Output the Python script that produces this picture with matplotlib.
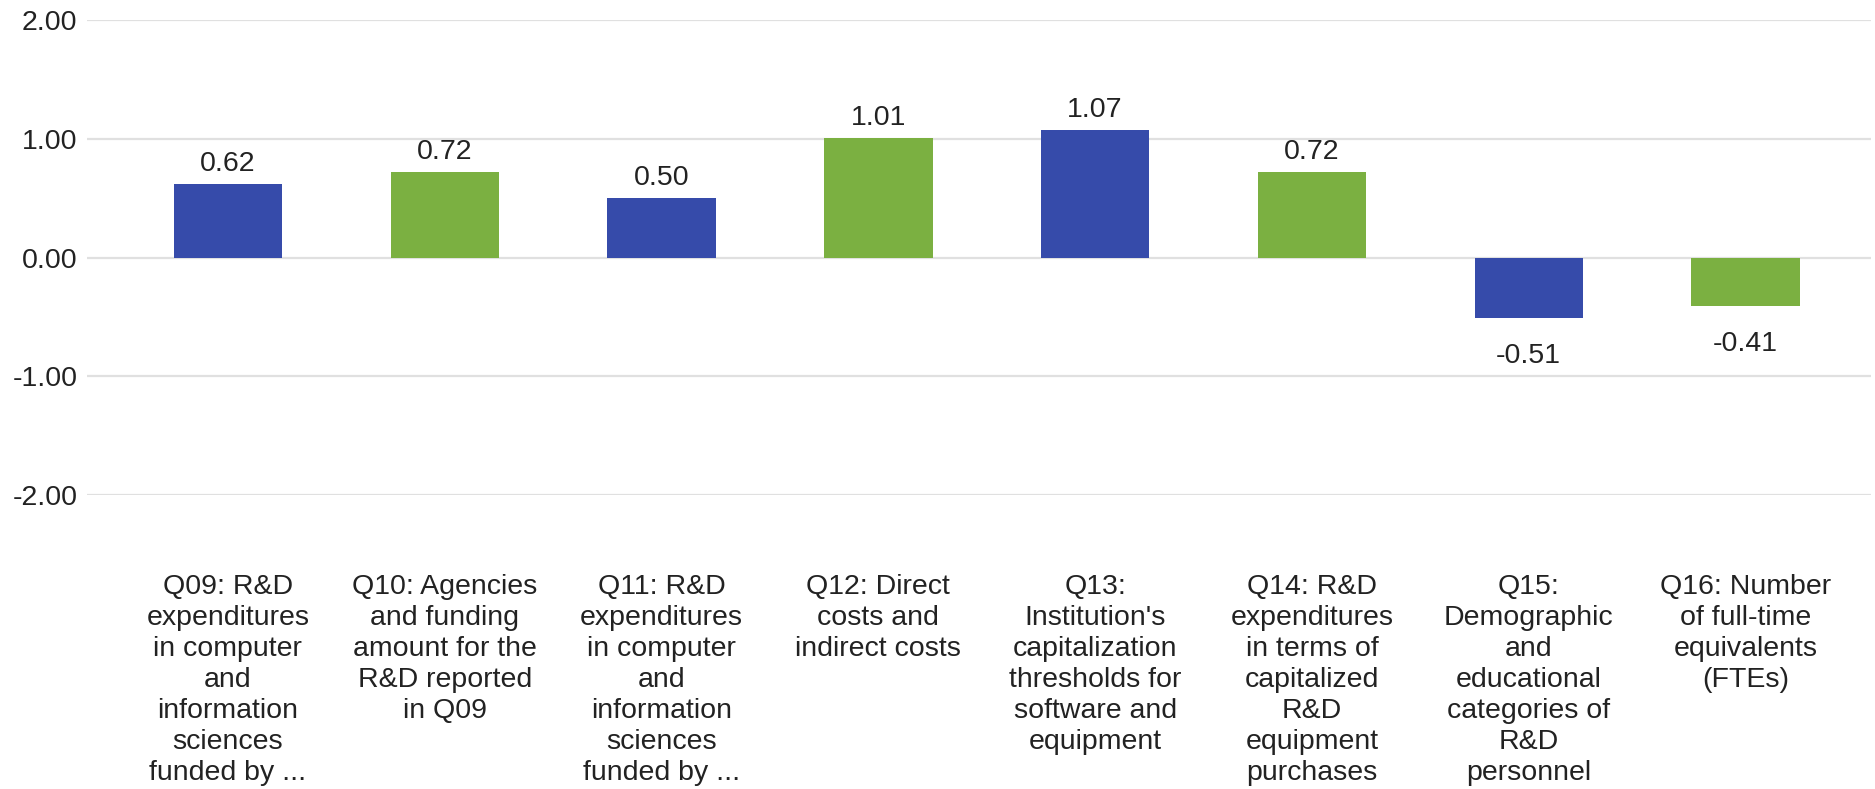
import matplotlib
matplotlib.use("Agg")
import matplotlib.pyplot as plt

# data
categories = [
    "Q09: R&D\nexpenditures\nin computer\nand\ninformation\nsciences\nfunded by ...",
    "Q10: Agencies\nand funding\namount for the\nR&D reported\nin Q09",
    "Q11: R&D\nexpenditures\nin computer\nand\ninformation\nsciences\nfunded by ...",
    "Q12: Direct\ncosts and\nindirect costs",
    "Q13:\nInstitution's\ncapitalization\nthresholds for\nsoftware and\nequipment",
    "Q14: R&D\nexpenditures\nin terms of\ncapitalized\nR&D\nequipment\npurchases",
    "Q15:\nDemographic\nand\neducational\ncategories of\nR&D\npersonnel",
    "Q16: Number\nof full-time\nequivalents\n(FTEs)",
]
values = [0.62, 0.72, 0.50, 1.01, 1.07, 0.72, -0.51, -0.41]
bar_colors = ["#364BAA", "#7BB041"] * 4
y_ticks = [-2.0, -1.0, 0.0, 1.0, 2.0]

plt.rcParams["font.family"] = ["Liberation Sans", "DejaVu Sans"]
text_color = "#222222"
fsize = 20.5

fig = plt.figure(figsize=(18.75, 7.89), dpi=100)
ax = fig.add_axes([0.0464, 0.3726, 0.9516, 0.602])

x = list(range(len(values)))
bars = ax.bar(x, values, width=0.5, color=bar_colors, zorder=3)

for b, v in zip(bars, values):
    cx = b.get_x() + b.get_width() / 2
    if v >= 0:
        ax.annotate(f"{v:.2f}", (cx, v), xytext=(0, 7), textcoords="offset pixels",
                    ha="center", va="bottom", fontsize=fsize, color=text_color)
    else:
        ax.annotate(f"{v:.2f}", (cx, v), xytext=(0, -25), textcoords="offset pixels",
                    ha="center", va="top", fontsize=fsize, color=text_color)

ax.set_xlim(-0.65, 7.58)
ax.set_ylim(-2.0, 2.0)
ax.set_yticks(y_ticks)
ax.set_yticklabels([f"{t:.2f}" for t in y_ticks])
ax.set_xticks(x)
ax.set_xticklabels(categories, linespacing=1.25)
ax.tick_params(axis="x", length=0, pad=57, labelsize=fsize, labelcolor=text_color)
ax.tick_params(axis="y", length=0, pad=7, labelsize=fsize, labelcolor=text_color)

ax.grid(axis="y", color="#e0e0e0", linewidth=1.6, zorder=0)
for s in ax.spines.values():
    s.set_visible(False)

fig.savefig("out.png", dpi=100)
